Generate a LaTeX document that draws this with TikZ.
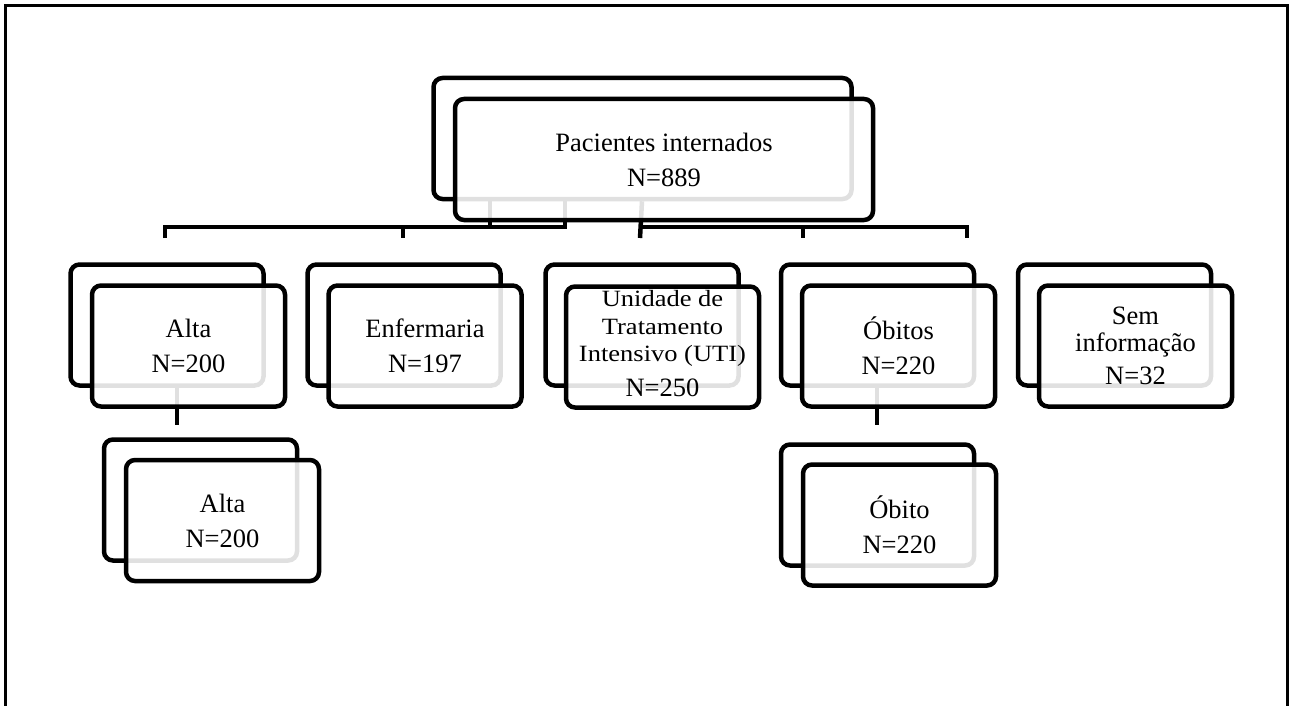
\documentclass[tikz,border=0pt]{standalone}
\usepackage{fontspec}
\setmainfont{Liberation Serif}
\usepackage{graphicx}
\tikzset{
  backbox/.style={draw, line width=4.5pt, rounded corners=9pt,
    minimum width=193pt, minimum height=121pt, inner sep=0pt},
  frontbox/.style={backbox, fill=white, fill opacity=0.88, text opacity=1,
    align=center, font=\fontsize{26.5}{35}\selectfont},
  link/.style={line width=4.5pt},
}
\begin{document}
\begin{tikzpicture}[x=1pt,y=-1pt]
  \useasboundingbox (0,0) rectangle (1289,706);
  \draw[line width=2.7pt] (5.3,706) -- (5.3,5.3) -- (1287.5,5.3) -- (1287.5,706);

  % back cards
  \node[backbox, minimum width=418pt] (topB) at (642.5,138.5) {};
  \node[backbox] (altaB) at (167,325) {};
  \node[backbox] (enfB) at (404,325) {};
  \node[backbox] (utiB) at (642,325) {};
  \node[backbox] (obitosB) at (877.5,325) {};
  \node[backbox] (semB) at (1114.5,325) {};
  \node[backbox] (alta2B) at (200.5,500) {};
  \node[backbox] (obito2B) at (877.5,505) {};

  % connectors
  \coordinate (j1) at (490,227);
  \coordinate (j2) at (565,227);
  \coordinate (j3) at (642,227);
  \coordinate (barL) at (567,227);
  \coordinate (barR) at (967,227);
  \draw[link] (topB.south -| j1) -- (j1);
  \draw[link] (topB.south -| j2) -- (j2);
  \draw[link] (topB.south -| j3) -- (640,238);
  \draw[link] (165,238) -- (165,227) -- (barL);
  \draw[link] (403,227) -- (403,238);
  \draw[link] (640,227) -- (barR) -- (967,238);
  \draw[link] (803,227) -- (803,238);
  \coordinate (a1) at (177,425);
  \coordinate (o1) at (877,425);
  \draw[link] (altaB.south -| a1) -- (a1);
  \draw[link] (obitosB.south -| o1) -- (o1);

  % front cards
  \node[frontbox, minimum width=418pt] (top) at (664,159.5) {Pacientes internados\\N=889};
  \node[frontbox] (alta) at (188.5,346) {Alta\\N=200};
  \node[frontbox] (enf) at (425,346) {Enfermaria\\N=197};
  \node[frontbox, text depth=10pt] (uti) at (662.5,347) {\scalebox{1}[0.88]{\fontsize{26.5}{31}\selectfont\begin{tabular}[b]{@{}c@{}}Unidade de\\Tratamento\\Intensivo (UTI)\end{tabular}}\\N=250};
  \node[frontbox] (obitos) at (898.5,346) {Óbitos\\N=220};
  \node[frontbox] (sem) at (1135.5,346) {Sem\\[-8pt]informação\\[-2pt]N=32};
  \node[frontbox] (alta2) at (222.5,520.5) {Alta\\N=200};
  \node[frontbox] (obito2) at (899.5,525) {Óbito\\N=220};
\end{tikzpicture}
\end{document}
